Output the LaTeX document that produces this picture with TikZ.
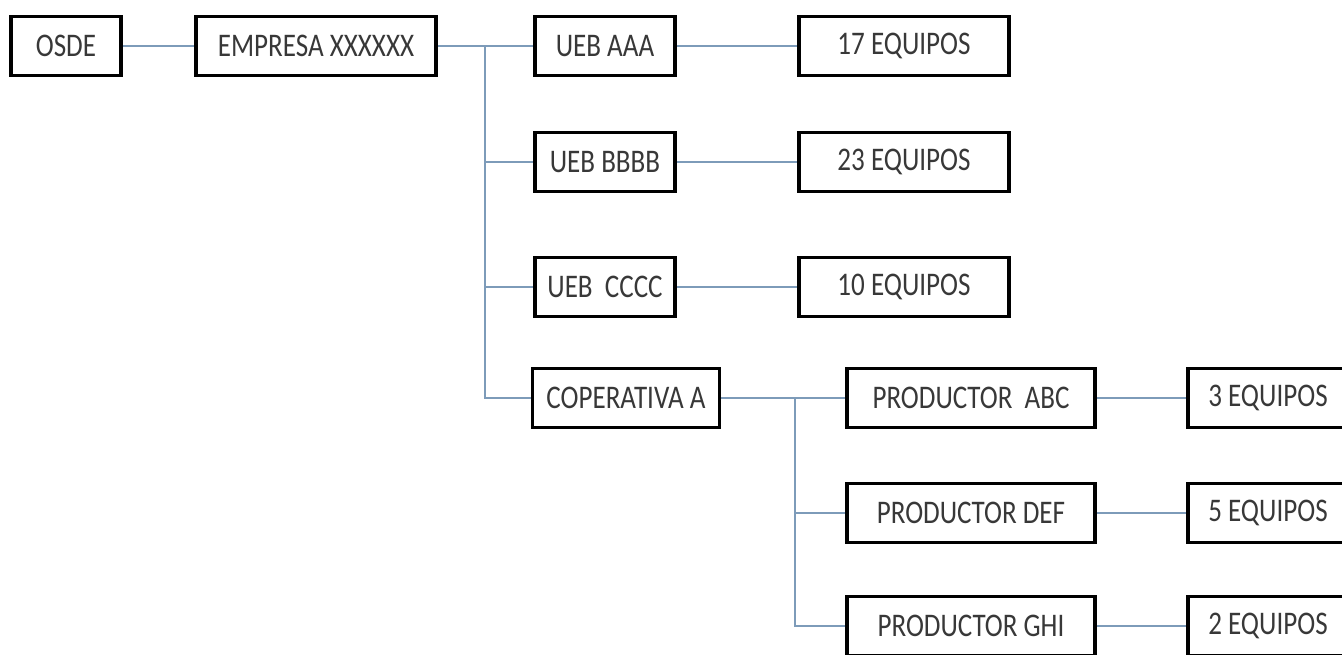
\documentclass[tikz,border=0pt]{standalone}
\usepackage{fontspec}
\setmainfont{Carlito}[FakeStretch=0.82]
\begin{document}
\begin{tikzpicture}[x=1pt,y=-1pt,
  box/.style={draw=black,line width=3.5pt,fill=white,inner sep=0pt,align=center,font=\fontsize{33}{36}\selectfont,text=black!78,minimum height=59pt},
  conn/.style={draw={rgb,255:red,125;green,155;blue,185},line width=1.8pt}]
\useasboundingbox[fill=white] (0,0) rectangle (1342,654);
% nodes
\node[box,minimum width=110pt] (osde) at (66,46) {OSDE};
\node[box,minimum width=240pt] (emp) at (316,46) {EMPRESA XXXXXX};
\node[box,minimum width=140pt] (ua) at (605,46) {UEB AAA};
\node[box,minimum width=210pt] (ea) at (904,46) {17 EQUIPOS};
\node[box,minimum width=140pt] (ub) at (605,162) {UEB BBBB};
\node[box,minimum width=210pt] (eb) at (904,162) {23 EQUIPOS};
\node[box,minimum width=140pt] (uc) at (605,287) {UEB\ \ CCCC};
\node[box,minimum width=210pt] (ec) at (904,287) {10 EQUIPOS};
\node[box,minimum width=187pt] (coop) at (626,398) {COPERATIVA A};
\node[box,minimum width=248pt] (pa) at (971,398) {PRODUCTOR\ \ ABC};
\node[box,minimum width=160pt] (qa) at (1268,398) {3 EQUIPOS};
\node[box,minimum width=248pt] (pd) at (971,513) {PRODUCTOR DEF};
\node[box,minimum width=160pt] (qd) at (1268,513) {5 EQUIPOS};
\node[box,minimum width=248pt] (pg) at (971,626) {PRODUCTOR GHI};
\node[box,minimum width=160pt] (qg) at (1268,626) {2 EQUIPOS};
% bus coordinates
\coordinate (b1) at (485,46);
\coordinate (b2) at (795,398);
% connectors
\path[conn] (osde.east) -- (emp.west);
\path[conn] (emp.east) -- (ua.west);
\path[conn] (b1) -- (b1 |- coop.west) -- (coop.west);
\path[conn] (b1 |- ub.west) -- (ub.west);
\path[conn] (b1 |- uc.west) -- (uc.west);
\path[conn] (ua.east) -- (ea.west);
\path[conn] (ub.east) -- (eb.west);
\path[conn] (uc.east) -- (ec.west);
\path[conn] (coop.east) -- (pa.west);
\path[conn] (b2) -- (b2 |- pg.west) -- (pg.west);
\path[conn] (b2 |- pd.west) -- (pd.west);
\path[conn] (pa.east) -- (qa.west);
\path[conn] (pd.east) -- (qd.west);
\path[conn] (pg.east) -- (qg.west);
\end{tikzpicture}
\end{document}
